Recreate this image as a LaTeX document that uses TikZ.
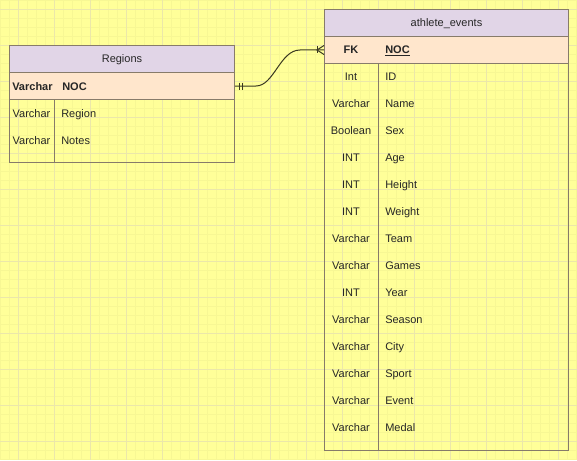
\documentclass[tikz,border=0pt]{standalone}
\usepackage{fontspec}
\setmainfont{Liberation Sans}
\usetikzlibrary{calc}
\definecolor{bgc}{HTML}{FFFF99}
\definecolor{gminor}{HTML}{F7F794}
\definecolor{gmajor}{HTML}{EBE7AA}
\definecolor{hdrc}{HTML}{E1D5E7}
\definecolor{keyc}{HTML}{FFE6CC}
\definecolor{bord}{HTML}{877B6A}
\definecolor{edgec}{HTML}{3A3820}
\begin{document}
\begin{tikzpicture}[x=0.75pt,y=-0.75pt,
  every node/.style={font=\fontsize{8.25}{10}\selectfont, text=black!85, inner sep=0pt},
  part/.style={draw=bord, line width=0.75pt, anchor=north west, minimum height=20.25pt},
  hdr/.style={part, fill=hdrc, text height=6pt, text depth=0pt},
  keyrow/.style={part, fill=keyc},
  body/.style={draw=bord, line width=0.75pt, anchor=north west},
  typ/.style={anchor=base},
  fld/.style={anchor=base west},
  divl/.style={draw=bord, line width=0.75pt},
  rel/.style={draw=edgec, line width=0.75pt}]
\useasboundingbox (0,0) rectangle (577,460);
\fill[bgc] (0,0) rectangle (577,460);
\foreach \i in {0,9,...,576} \draw[gminor, line width=0.35pt] (\i,0) -- (\i,460);
\foreach \j in {0,9,...,459} \draw[gminor, line width=0.35pt] (0,\j) -- (577,\j);
\foreach \i in {18,54,...,576} \draw[gmajor, line width=0.5pt] (\i,0) -- (\i,460);
\foreach \j in {9,45,...,459} \draw[gmajor, line width=0.5pt] (0,\j) -- (577,\j);

% Regions table
\node[body, minimum width=168.75pt, minimum height=47.25pt] (regb) at (9,99) {};
\node[hdr, minimum width=168.75pt] (regh) at (9,45) {Regions};
\node[keyrow, minimum width=168.75pt] (regk) at (9,72) {};
\draw[divl] (54,99) -- (54,162);
\node[anchor=base west, font=\fontsize{8.25}{10}\selectfont\bfseries] (regkt) at (12,90) {Varchar};
\node[fld, font=\fontsize{8.25}{10}\selectfont\bfseries] (regkn) at (62,90) {NOC};
\node[typ] (regt1) at (31.5,117) {Varchar};
\node[fld] (regn1) at (61,117) {Region};
\node[typ] (regt2) at (31.5,144) {Varchar};
\node[fld] (regn2) at (61,144) {Notes};

% athlete_events table
\node[body, minimum width=183pt, minimum height=290.25pt] (athb) at (324,63) {};
\node[hdr, minimum width=183pt] (athh) at (324,9) {athlete\_events};
\node[keyrow, minimum width=183pt] (athk) at (324,36) {};
\draw[divl] (378,63) -- (378,450);
\node[typ, font=\fontsize{8.25}{10}\selectfont\bfseries] (athkt) at (351,53.5) {FK};
\node[fld, font=\fontsize{8.25}{10}\selectfont\bfseries] (athkn) at (385,53.5) {\underline{NOC}};
\foreach \t/\n [count=\k from 0] in {Int/ID,Varchar/Name,Boolean/Sex,INT/Age,INT/Height,INT/Weight,Varchar/Team,Varchar/Games,INT/Year,Varchar/Season,Varchar/City,Varchar/Sport,Varchar/Event,Varchar/Medal}{
  \node[typ] (att\k) at (351,80.5+27*\k) {\t};
  \node[fld] (atn\k) at (385,80.5+27*\k) {\n};
}

% relationship
\coordinate (r1) at ($(regk.east)+(21,0)$);
\coordinate (a1) at ($(athk.west)+(-24,0)$);
\draw[rel] (regk.east) -- (r1) .. controls ($(r1)+(18,0)$) and ($(a1)+(-20,0)$) .. (a1) -- (athk.west);
\draw[rel] ($(regk.east)+(4,-3.5)$) -- ++(0,7);
\draw[rel] ($(regk.east)+(7,-3.5)$) -- ++(0,7);
\draw[rel] ($(athk.west)+(-6.5,-3.5)$) -- ++(0,7);
\draw[rel] ($(athk.west)+(0,-4.5)$) -- ($(athk.west)+(-7,0)$) -- ($(athk.west)+(0,4.5)$);
\end{tikzpicture}
\end{document}
